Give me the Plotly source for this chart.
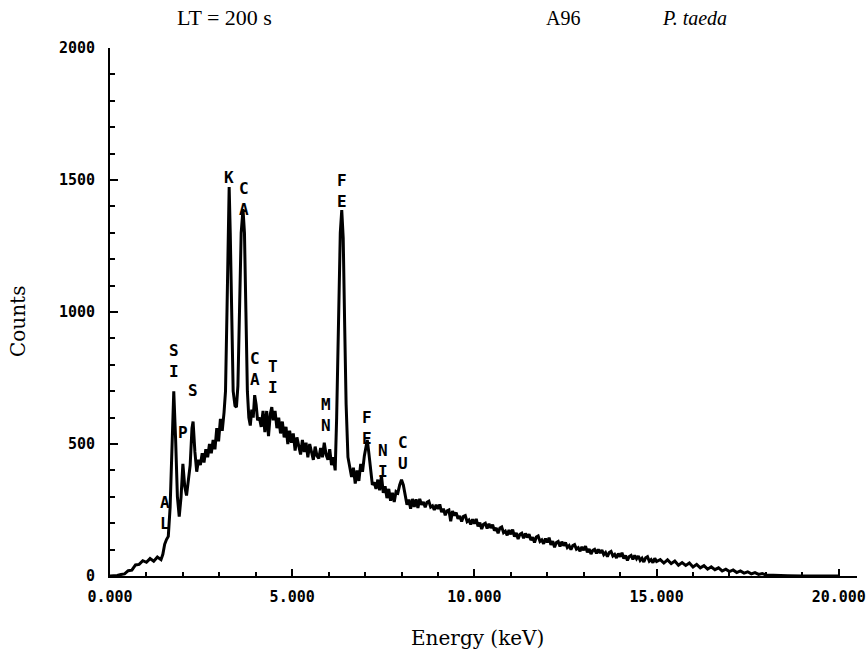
import plotly.graph_objects as go

# ---- spectrum (energy in keV, counts) ----
energy_low = [
    0.00, 0.10, 0.20, 0.30, 0.40, 0.50, 0.60, 0.70, 0.80, 0.90,
    1.00, 1.10, 1.20, 1.30, 1.40, 1.45, 1.50, 1.55, 1.60, 1.65,
    1.70, 1.75, 1.80, 1.85, 1.90, 1.95, 2.00, 2.05, 2.10, 2.15,
    2.20, 2.25, 2.28, 2.33, 2.38, 2.43, 2.48, 2.53, 2.58, 2.63,
    2.68, 2.73, 2.78, 2.83, 2.88, 2.93, 2.98, 3.03, 3.08, 3.13,
    3.17, 3.21, 3.25, 3.27, 3.30, 3.34, 3.38, 3.43, 3.47, 3.51,
    3.55, 3.60, 3.65, 3.69, 3.73, 3.77, 3.81, 3.85, 3.89, 3.93,
    3.97, 4.01, 4.05, 4.10, 4.15, 4.20, 4.25, 4.30, 4.35, 4.40,
    4.44, 4.48, 4.53, 4.58, 4.63, 4.68, 4.73, 4.78, 4.83, 4.88,
    4.93, 4.98, 5.03, 5.08, 5.13, 5.18, 5.23, 5.28, 5.33, 5.38,
    5.43, 5.48, 5.53, 5.58, 5.63, 5.68, 5.73, 5.78, 5.83, 5.88,
    5.93, 5.98, 6.03, 6.08, 6.13, 6.18, 6.22, 6.27, 6.32, 6.36,
    6.40, 6.44, 6.48, 6.53, 6.58, 6.63, 6.68, 6.73, 6.78, 6.83,
    6.88, 6.93, 6.98, 7.03, 7.06, 7.10, 7.15, 7.20, 7.25, 7.30,
    7.35, 7.40, 7.45, 7.50, 7.55, 7.60, 7.65, 7.70, 7.75, 7.80,
    7.85, 7.90, 7.95, 8.00, 8.05, 8.10, 8.15, 8.20, 8.25, 8.30,
    8.35, 8.40, 8.45,
]
counts_low = [
    0, 0, 2, 6, 8, 20, 22, 42, 44, 58,
    52, 66, 56, 72, 62, 82, 120, 138, 150, 260,
    520, 700, 520, 300, 225, 300, 425, 340, 305, 360,
    420, 560, 585, 470, 395, 440, 420, 465, 430, 480,
    450, 500, 465, 515, 480, 560, 510, 595, 550, 620,
    700, 1000, 1400, 1473, 1300, 900, 700, 645, 640, 720,
    1000, 1300, 1390, 1300, 1000, 700, 600, 570, 630, 600,
    685, 650, 590, 600, 565, 625, 545, 625, 530, 615,
    640, 590, 625, 560, 600, 540, 585, 525, 565, 500,
    550, 505, 540, 475, 525, 490, 460, 515, 470, 505,
    450, 500, 465, 440, 490, 455, 445, 485, 450, 505,
    460, 440, 480, 420, 450, 400, 600, 1000, 1300, 1386,
    1280, 950, 650, 450, 410, 375, 410, 350, 400, 360,
    425, 395, 455, 505, 515, 470, 400, 345, 355, 330,
    365, 325, 380, 315, 340, 295, 330, 285, 315, 280,
    320, 315, 345, 365, 345, 310, 270, 290, 255, 292,
    262, 290, 258,
]
energy_tail = [
    8.50, 8.55, 8.60, 8.65, 8.70, 8.75, 8.80, 8.85, 8.90, 8.95,
    9.00, 9.05, 9.10, 9.15, 9.20, 9.25, 9.30, 9.35, 9.40, 9.45,
    9.50, 9.55, 9.60, 9.65, 9.70, 9.75, 9.80, 9.85, 9.90, 9.95,
    10.00, 10.05, 10.10, 10.15, 10.20, 10.25, 10.30, 10.35, 10.40, 10.45,
    10.50, 10.55, 10.60, 10.65, 10.70, 10.75, 10.80, 10.85, 10.90, 10.95,
    11.00, 11.05, 11.10, 11.15, 11.20, 11.25, 11.30, 11.35, 11.40, 11.45,
    11.50, 11.55, 11.60, 11.65, 11.70, 11.75, 11.80, 11.85, 11.90, 11.95,
    12.00, 12.05, 12.10, 12.15, 12.20, 12.25, 12.30, 12.35, 12.40, 12.45,
    12.50, 12.55, 12.60, 12.65, 12.70, 12.75, 12.80, 12.85, 12.90, 12.95,
    13.00, 13.05, 13.10, 13.15, 13.20, 13.25, 13.30, 13.35, 13.40, 13.45,
    13.50, 13.55, 13.60, 13.65, 13.70, 13.75, 13.80, 13.85, 13.90, 13.95,
    14.00, 14.05, 14.10, 14.15, 14.20, 14.25, 14.30, 14.35, 14.40, 14.45,
    14.50, 14.55, 14.60, 14.65, 14.70, 14.75, 14.80, 14.85, 14.90, 14.95,
    15.00, 15.10, 15.20, 15.30, 15.40, 15.50, 15.60, 15.70, 15.80, 15.90,
    16.00, 16.10, 16.20, 16.30, 16.40, 16.50, 16.60, 16.70, 16.80, 16.90,
    17.00, 17.10, 17.20, 17.30, 17.40, 17.50, 17.60, 17.70, 17.80, 17.90,
    18.00, 18.20, 18.40, 18.60, 18.80, 19.00, 20.00,
]
counts_tail = [
    292, 270, 280, 260, 279, 283, 261, 266, 250, 270,
    254, 271, 242, 255, 230, 247, 250, 207, 246, 229,
    240, 217, 227, 206, 226, 229, 206, 212, 195, 215,
    198, 216, 188, 202, 178, 196, 200, 180, 198, 182,
    194, 172, 182, 162, 182, 186, 164, 170, 154, 174,
    158, 176, 149, 163, 140, 158, 162, 143, 161, 146,
    158, 136, 147, 127, 148, 152, 131, 137, 122, 142,
    127, 145, 118, 132, 109, 127, 131, 112, 130, 115,
    127, 108, 115, 100, 115, 119, 102, 107, 94, 110,
    98, 113, 90, 102, 83, 97, 101, 86, 101, 87,
    98, 81, 89, 73, 89, 93, 76, 82, 68, 85,
    73, 88, 66, 78, 59, 74, 78, 63, 78, 65,
    76, 59, 67, 53, 69, 73, 56, 62, 50, 67,
    55, 62, 49, 61, 47, 57, 41, 51, 40, 49,
    34, 44, 31, 39, 26, 35, 24, 31, 19, 26,
    17, 23, 13, 19, 11, 16, 8, 13, 6, 9,
    4, 4, 2, 1, 0, 0, 0,
]
energy_kev = energy_low + energy_tail
counts = counts_low + counts_tail

# ---- element labels (stacked letters) ----
label_text = ["A<br>L", "S<br>I", "P", "S", "K", "C<br>A", "C<br>A", "T<br>I",
              "M<br>N", "F<br>E", "F<br>E", "N<br>I", "C<br>U"]
label_kev = [1.51, 1.76, 2.00, 2.28, 3.27, 3.68, 3.98, 4.47,
             5.93, 6.37, 7.05, 7.49, 8.04]
label_counts = [239, 814, 542, 701, 1508, 1428, 784, 754,
                608, 1458, 562, 436, 466]

x_tickvals = [0, 5, 10, 15, 20]
y_tickvals = [0, 500, 1000, 1500, 2000]

W, H = 868, 657
L, R, T, B = 110, 11, 48, 81
pw, ph = W - L - R, H - T - B


def px(xpage):
    return (xpage - L) / pw


def py(ypage):
    return (H - B - ypage) / ph


fig = go.Figure()
fig.add_trace(go.Scatter(
    x=energy_kev, y=counts, mode="lines",
    line=dict(color="black", width=3),
    hoverinfo="skip", showlegend=False,
))

label_font = dict(family="DejaVu Sans Mono", size=16, color="black", weight="bold")
for t, xv, yv in zip(label_text, label_kev, label_counts):
    fig.add_annotation(x=xv, y=yv, xref="x", yref="y", text=t,
                       showarrow=False, font=label_font,
                       xanchor="center", yanchor="middle")

serif = "Liberation Serif"
header = [("LT = 200 s", 224, 22), ("A96", 563, 20), ("<i>P. taeda</i>", 694, 20)]
for txt, xp, sz in header:
    fig.add_annotation(x=px(xp), y=py(18), xref="paper", yref="paper", text=txt,
                       xanchor="center", yanchor="middle", showarrow=False,
                       font=dict(family=serif, size=sz, color="black"))
fig.add_annotation(x=px(477), y=py(638), xref="paper", yref="paper", text="Energy (keV)",
                   xanchor="center", yanchor="middle", showarrow=False,
                   font=dict(family="DejaVu Serif", size=20, color="black"))
fig.add_annotation(x=px(18), y=py(322), xref="paper", yref="paper", text="Counts",
                   textangle=-90, xanchor="center", yanchor="middle", showarrow=False,
                   font=dict(family="DejaVu Serif", size=20, color="black"))

tick_font = dict(family="DejaVu Sans Mono", size=15, color="black", weight="bold")
fig.update_layout(
    width=W, height=H,
    margin=dict(l=L, r=R, t=T, b=B, autoexpand=False),
    paper_bgcolor="white", plot_bgcolor="white",
    xaxis=dict(range=[0, 20.5], showline=True, linecolor="black", linewidth=2,
               ticks="inside", tickvals=x_tickvals, ticklen=7, tickwidth=2,
               tickcolor="black", tickformat=".3f",
               minor=dict(dtick=1, ticks="inside", ticklen=4, tickwidth=1.5, tickcolor="black"),
               showgrid=False, zeroline=False, tickfont=tick_font, ticklabelstandoff=6),
    yaxis=dict(range=[0, 2000], showline=True, linecolor="black", linewidth=2,
               ticks="inside", tickvals=y_tickvals, ticklen=8, tickwidth=2,
               tickcolor="black",
               minor=dict(dtick=100, ticks="inside", ticklen=5, tickwidth=1.5, tickcolor="black"),
               showgrid=False, zeroline=False, tickfont=tick_font, ticklabelstandoff=10),
)

fig.write_html("out.html", config={"displayModeBar": False},
               post_script="document.body.style.margin='0px';")
